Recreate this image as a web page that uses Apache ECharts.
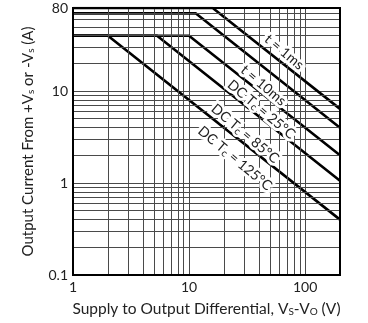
<!DOCTYPE html>
<html>
<head>
<meta charset="utf-8">
<script src="https://cdn.jsdelivr.net/npm/echarts@6/dist/echarts.min.js"></script>
<style>html,body{margin:0;padding:0;background:#fff;}#c{width:368px;height:323px;}</style>
</head>
<body>
<div id="c"></div>
<script>
// ---- data ----
const xRange = [1, 200];
const yRange = [0.1, 80];
const xTickLabels = [1, 10, 100];
const yTickLabels = [0.1, 1, 10, 80];
const xMinorGrid = [2,3,4,5,6,7,8,9,20,30,40,50,60,70,80,90];
const yMinorGrid = [0.2,0.3,0.4,0.5,0.6,0.7,0.8,0.9,2,3,4,5,6,7,8,9,20,30,40,50,60,70];

const t1ms  = [[1, 80], [16, 80], [200, 6.4]];
const t10ms = [[1, 70], [11.4, 70], [200, 4]];
const dc25  = [[1, 40], [10, 40], [200, 2]];
const dc85  = [[1, 40], [5.3, 40], [200, 1.06]];
const dc125 = [[1, 40], [2, 40], [200, 0.4]];

const curveNames = ['t = 1ms', 't = 10ms', 'DC Tc = 25°C', 'DC Tc = 85°C', 'DC Tc = 125°C'];
const curveLabels = ['t = 1ms', 't = 10ms', 'DC T{sub|c} = 25°C', 'DC T{sub|c} = 85°C', 'DC T{sub|c} = 125°C'];
const labelAnchors = [[66, 26.5], [43.7, 11.5], [42, 6.3], [30.4, 3.44], [24.9, 1.85]];

const FONT = 'Lato, "Open Sans", sans-serif';
const chart = echarts.init(document.getElementById('c'), null, {renderer: 'canvas'});

const curves = [t1ms, t10ms, dc25, dc85, dc125];
const series = [{
  type: 'line', name: 'grid', data: [], z: 1, silent: true, symbol: 'none',
  markLine: {
    silent: true, symbol: 'none', animation: false,
    label: {show: false},
    lineStyle: {color: '#4a4a4a', width: 1, type: 'solid'},
    emphasis: {disabled: true},
    data: xMinorGrid.map(v => ({xAxis: v})).concat(yMinorGrid.map(v => ({yAxis: v})))
  }
}];
curves.forEach((d, i) => {
  series.push({
    type: 'line', name: curveNames[i], data: d, z: 3,
    symbol: 'none', silent: true,
    lineStyle: {color: '#000', width: 2.6},
    animation: false,
    markPoint: {
      silent: true, symbol: 'circle', symbolSize: 0, animation: false, z: 6,
      data: [{coord: labelAnchors[i]}],
      label: {
        show: true, position: 'inside', formatter: curveLabels[i], rotate: -40,
        fontFamily: FONT, fontSize: 14, color: '#222', lineHeight: 16,
        textBorderColor: '#fff', textBorderWidth: 6,
        rich: {sub: {fontSize: 10, fontFamily: FONT, color: '#222', verticalAlign: 'bottom', lineHeight: 4, textBorderColor: '#fff', textBorderWidth: 5}}
      }
    }
  });
});

const subRich = {s: {fontSize: 10, fontFamily: FONT, color: '#222', verticalAlign: 'bottom', lineHeight: 6}};

chart.setOption({
  animation: false,
  backgroundColor: '#fff',
  grid: {left: 73, right: 28, top: 8, bottom: 48, show: true, borderColor: '#000', borderWidth: 2, backgroundColor: 'transparent', z: 10},
  xAxis: {
    type: 'log', logBase: 10, min: xRange[0], max: xRange[1],
    name: 'Supply to Output Differential, V{s|S}-V{s|O} (V)',
    nameLocation: 'middle', nameGap: 26,
    nameTextStyle: {fontFamily: FONT, fontSize: 15.5, color: '#222', lineHeight: 16, rich: subRich},
    axisLine: {show: false}, axisTick: {show: false},
    axisLabel: {fontFamily: FONT, fontSize: 14, color: '#222', margin: 5, customValues: xTickLabels,
      formatter: v => String(+v.toPrecision(6))},
    splitLine: {show: true, lineStyle: {color: '#4a4a4a', width: 1}}
  },
  yAxis: {
    type: 'log', logBase: 10, min: yRange[0], max: yRange[1],
    name: 'Output Current From +V{s|s} or -V{s|s} (A)',
    nameLocation: 'middle', nameGap: 37,
    nameTextStyle: {fontFamily: FONT, fontSize: 15, color: '#222', lineHeight: 16, rich: subRich},
    axisLine: {show: false}, axisTick: {show: false},
    axisLabel: {fontFamily: FONT, fontSize: 14, color: '#222', margin: 5, customValues: yTickLabels,
      formatter: v => String(+v.toPrecision(6))},
    splitLine: {show: true, lineStyle: {color: '#4a4a4a', width: 1}}
  },
  series: series
});
</script>
</body>
</html>
